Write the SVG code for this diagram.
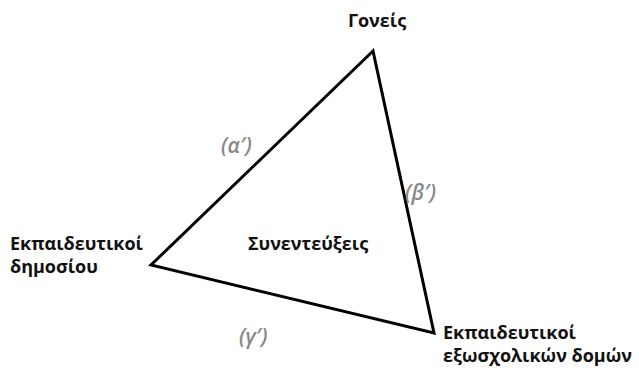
<svg xmlns="http://www.w3.org/2000/svg" width="639" height="370" viewBox="0 0 639 370">
<style>
.t{font-family:"Open Sans","Noto Sans",sans-serif;font-weight:bold;font-size:18px;fill:#111}
.l{font-family:"Open Sans","Noto Sans",sans-serif;font-weight:600;font-style:italic;font-size:21px;fill:#888}
</style>
<rect width="639" height="370" fill="#fff"/>
<g id="connectors">
<polygon points="373,51 151,265 434,333" fill="none" stroke="#000" stroke-width="3" stroke-linejoin="miter"/>
</g>
<g id="node-goneis"><text class="t" x="377" y="27" text-anchor="middle">Γονείς</text></g>
<g id="node-dimosiou"><text class="t" x="10" y="250">Εκπαιδευτικοί</text><text class="t" x="10" y="273">δημοσίου</text></g>
<g id="node-exoscholikon"><text class="t" x="443" y="339">Εκπαιδευτικοί</text><text class="t" x="443" y="362">εξωσχολικών δομών</text></g>
<g id="node-center"><text class="t" x="308" y="250" text-anchor="middle">Συνεντεύξεις</text></g>
<g id="labels">
<text class="l" x="221" y="153">(α′)</text>
<text class="l" x="405" y="200">(β′)</text>
<text class="l" x="239" y="344">(γ′)</text>
</g>
</svg>
